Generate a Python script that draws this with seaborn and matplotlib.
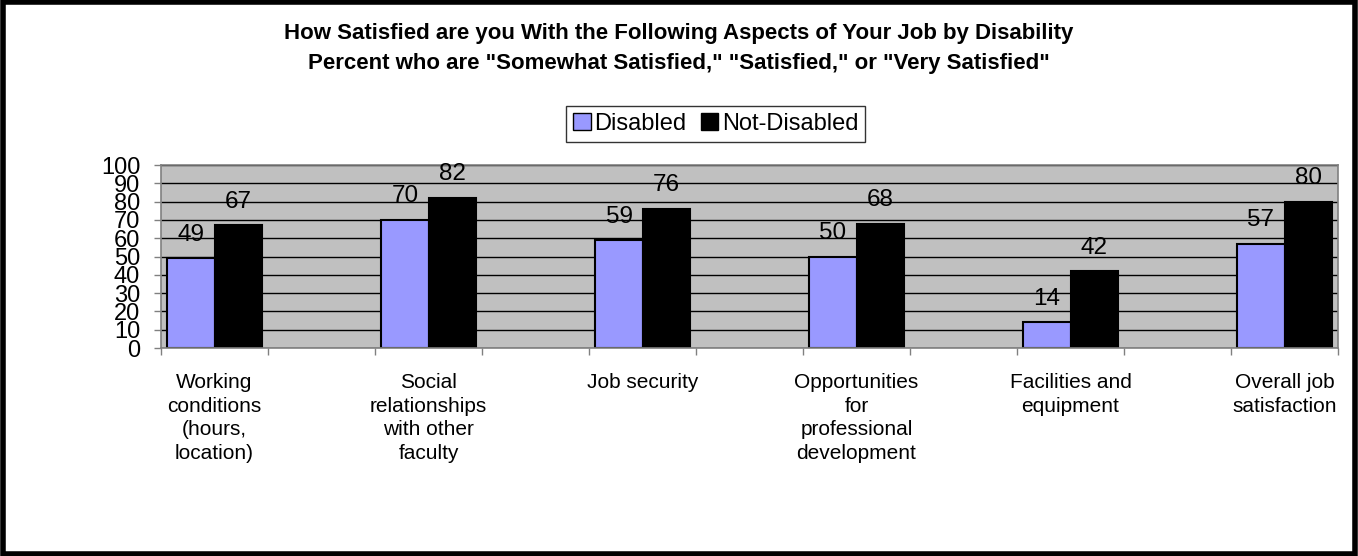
import matplotlib
matplotlib.use("Agg")
import matplotlib.pyplot as plt
import seaborn as sns
import pandas as pd
from matplotlib.patches import Rectangle, Patch

categories = [
    "Working\nconditions\n(hours,\nlocation)",
    "Social\nrelationships\nwith other\nfaculty",
    "Job security",
    "Opportunities\nfor\nprofessional\ndevelopment",
    "Facilities and\nequipment",
    "Overall job\nsatisfaction",
]
disabled = [49, 70, 59, 50, 14, 57]
not_disabled = [67, 82, 76, 68, 42, 80]
series = ["Disabled", "Not-Disabled"]
colors = ["#9999FF", "#000000"]
title_lines = [
    "How Satisfied are you With the Following Aspects of Your Job by Disability",
    'Percent who are "Somewhat Satisfied," "Satisfied," or "Very Satisfied"',
]
yticks = list(range(0, 101, 10))

sns.set_theme(style="white")
plt.rcParams["font.family"] = ["Liberation Sans", "DejaVu Sans"]
plt.rcParams["text.color"] = "black"
plt.rcParams["xtick.color"] = "black"
plt.rcParams["ytick.color"] = "black"
plt.rcParams["axes.labelcolor"] = "black"

df = pd.DataFrame({
    "cat": categories * 2,
    "group": [series[0]] * len(categories) + [series[1]] * len(categories),
    "val": disabled + not_disabled,
})

# Excel layout: each category sits in every other slot, blank slots in between
order = []
for i, c in enumerate(categories):
    order.append(c)
    if i < len(categories) - 1:
        order.append(" " * (i + 1))

fig = plt.figure(figsize=(13.58, 5.56), dpi=100)
ax = fig.add_axes([0.1186, 0.3741, 0.8667, 0.3291])
ax.set_facecolor("#C0C0C0")

sns.barplot(data=df, x="cat", y="val", hue="group", order=order,
            hue_order=series, palette=colors, width=0.88, gap=0,
            edgecolor="black", linewidth=1.5, ax=ax, legend=False,
            saturation=1)

for cont in ax.containers:
    ax.bar_label(cont, fmt="%d", padding=9, fontsize=17.5, color="black")

ax.set_ylim(0, 100)
ax.set_xlim(-0.5, len(order) - 0.5)
ax.set_yticks(yticks)
ax.set_yticklabels([str(t) for t in yticks], fontsize=17)
ax.yaxis.grid(True, color="black", linewidth=1)
ax.set_axisbelow(True)

major = [order.index(c) for c in categories]
ax.set_xticks(major)
ax.set_xticklabels(categories, fontsize=15, linespacing=1.3)
ax.set_xticks([i - 0.5 for i in range(len(order) + 1)], minor=True)
ax.tick_params(axis="x", which="major", length=0, pad=18)
ax.tick_params(axis="x", which="minor", length=5, width=1, color="#808080",
               direction="out", bottom=True)
ax.tick_params(axis="y", length=5, width=1, color="#808080", direction="out",
               left=True, pad=10)
ax.set_xlabel("")
ax.set_ylabel("")
for s in ax.spines.values():
    s.set_color("#808080")
    s.set_linewidth(1.2)

fig.text(0.5, 1 - 34 / 556, title_lines[0], ha="center", va="center",
         fontsize=16, fontweight="bold")
fig.text(0.5, 1 - 64 / 556, title_lines[1], ha="center", va="center",
         fontsize=16, fontweight="bold")

handles = [Patch(facecolor=c, edgecolor="black", linewidth=1) for c in colors]
leg = fig.legend(handles, series, loc="center", bbox_to_anchor=(0.527, 1 - 124 / 556),
                 ncol=2, fontsize=17, frameon=True, fancybox=False,
                 handlelength=0.75, handleheight=0.75, handletextpad=0.15,
                 columnspacing=0.6, borderpad=0.3, borderaxespad=0)
leg.get_frame().set_edgecolor("black")
leg.get_frame().set_linewidth(1)

fig.patches.append(Rectangle((0.0025, 0.004), 0.9955, 0.992, transform=fig.transFigure,
                             fill=False, edgecolor="black", linewidth=4))

fig.savefig("out.png", dpi=100)
